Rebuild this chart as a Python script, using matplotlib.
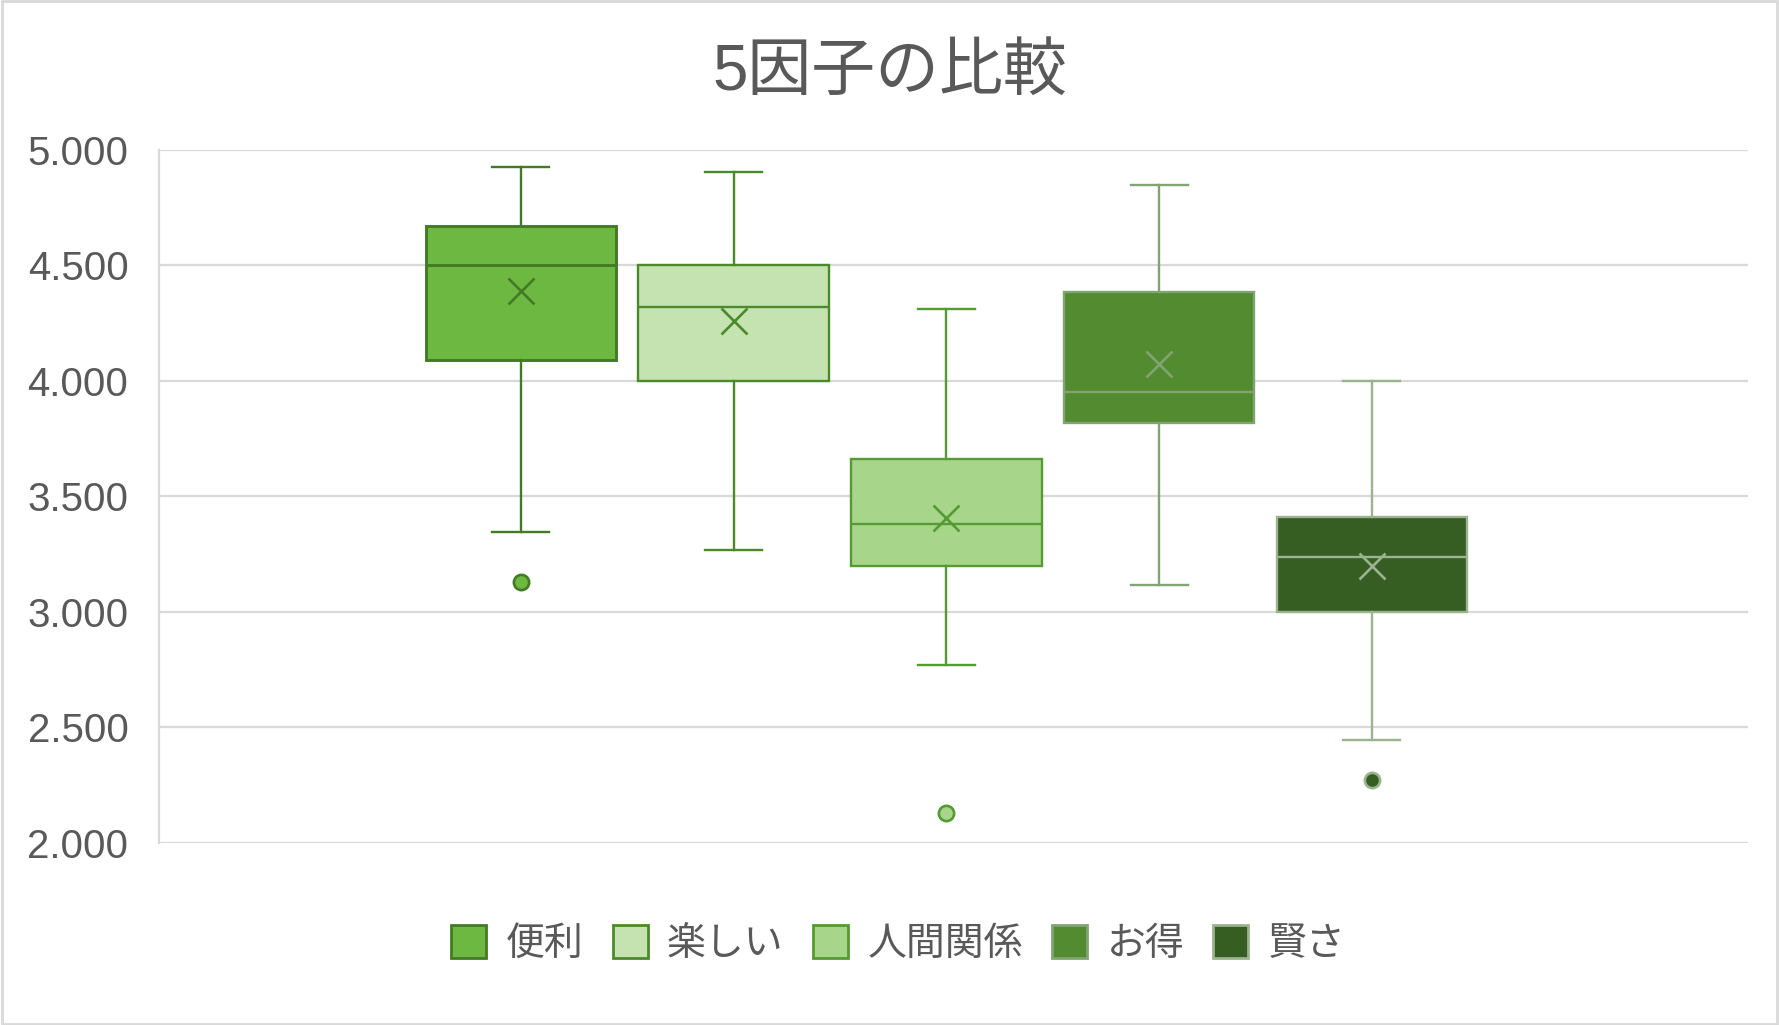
import matplotlib

matplotlib.use("Agg")
import matplotlib.pyplot as plt
from matplotlib.patches import Patch, Rectangle

# five factors, box-and-whisker summary
factors = ["便利", "楽しい", "人間関係", "お得", "賢さ"]
whis_hi = [4.924, 4.903, 4.309, 4.847, 4.000]
q3 = [4.669, 4.500, 3.660, 4.386, 3.412]
median = [4.500, 4.321, 3.381, 3.953, 3.236]
mean = [4.390, 4.260, 3.408, 4.074, 3.196]
q1 = [4.090, 4.000, 3.199, 3.818, 3.000]
whis_lo = [3.344, 3.267, 2.769, 3.115, 2.444]
outliers = [[3.130], [], [2.130], [], [2.270]]

fills = ["#6db840", "#c5e3b1", "#a7d68a", "#538b30", "#365d22"]
edges = ["#437b24", "#4b8a2a", "#559a32", "#81a572", "#9bb48f"]

FONT = ["Liberation Sans", "Noto Sans CJK JP", "DejaVu Sans"]
plt.rcParams["font.family"] = FONT
TEXT = "#595959"
GRID = "#d9d9d9"

fig = plt.figure(figsize=(17.79, 10.25), dpi=100)
ax = fig.add_axes([0.0894, 0.1778, 0.8932, 0.6761])

for i, name in enumerate(factors):
    stats = [{
        "med": median[i], "q1": q1[i], "q3": q3[i],
        "whislo": whis_lo[i], "whishi": whis_hi[i],
        "mean": mean[i], "fliers": outliers[i], "label": name,
    }]
    lw = 2.1 if i == 0 else 1.7
    ax.bxp(
        stats, positions=[i + 1], widths=0.895, patch_artist=True,
        showmeans=True, capwidths=0.268, manage_ticks=False,
        boxprops=dict(facecolor=fills[i], edgecolor=edges[i], linewidth=lw),
        medianprops=dict(color=edges[i], linewidth=lw),
        whiskerprops=dict(color=edges[i], linewidth=1.7),
        capprops=dict(color=edges[i], linewidth=1.7),
        meanprops=dict(marker="x", markeredgecolor=edges[i], markersize=19,
                       markeredgewidth=1.9),
        flierprops=dict(marker="o", markerfacecolor=fills[i],
                        markeredgecolor=edges[i], markersize=11,
                        markeredgewidth=1.9),
    )

ax.set_xlim(-0.701, 6.769)
ax.set_ylim(2.0, 5.0)
ax.set_yticks([2.0, 2.5, 3.0, 3.5, 4.0, 4.5, 5.0])
ax.set_yticklabels([f"{v:.3f}" for v in ax.get_yticks()])
ax.set_xticks([])
ax.yaxis.grid(True, color=GRID, linewidth=1.6)
ax.set_axisbelow(True)
for side in ["top", "right", "bottom"]:
    ax.spines[side].set_visible(False)
ax.spines["left"].set_color(GRID)
ax.spines["left"].set_linewidth(1.6)
ax.tick_params(axis="y", length=0, pad=22, labelsize=29, labelcolor=TEXT)

fig.text(0.5, 0.929, "5因子の比較", ha="center", va="center",
         fontsize=46, color=TEXT, family=FONT)

handles = [Patch(facecolor=f, edgecolor=e, linewidth=2.0)
           for f, e in zip(fills, edges)]
fig.legend(handles, factors, loc="center", bbox_to_anchor=(0.505, 0.079),
           ncol=5, frameon=False, fontsize=28, labelcolor=TEXT,
           handlelength=0.9, handleheight=0.9, handletextpad=0.5,
           columnspacing=0.75)

# light chart border
fig.patches.append(Rectangle((0.001, 0.001), 0.998, 0.998,
                             transform=fig.transFigure, fill=False,
                             edgecolor=GRID, linewidth=2))

fig.savefig("out.png", dpi=100)
